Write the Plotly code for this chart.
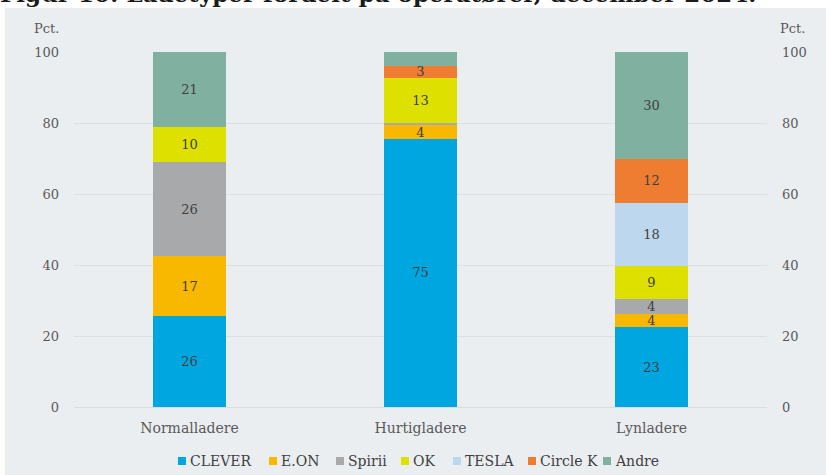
import plotly.graph_objects as go

categories = ["Normalladere", "Hurtigladere", "Lynladere"]
operators = ["CLEVER", "E.ON", "Spirii", "OK", "TESLA", "Circle K", "Andre"]
clever = [25.6, 75.5, 22.5]
eon = [16.9, 3.9, 3.7]
spirii = [26.5, 0.6, 4.2]
ok = [9.9, 12.7, 9.3]
tesla = [0.0, 0.0, 17.8]
circlek = [0.0, 3.4, 12.4]
andre = [21.1, 3.9, 30.1]
# labels shown on the bars (blank where the original shows none)
clever_lbl = ["26", "75", "23"]
eon_lbl = ["17", "4", "4"]
spirii_lbl = ["26", "", "4"]
ok_lbl = ["10", "13", "9"]
tesla_lbl = ["", "", "18"]
circlek_lbl = ["", "3", "12"]
andre_lbl = ["21", "", "30"]
y_ticks = [0, 20, 40, 60, 80, 100]

series = [clever, eon, spirii, ok, tesla, circlek, andre]
labels = [clever_lbl, eon_lbl, spirii_lbl, ok_lbl, tesla_lbl, circlek_lbl, andre_lbl]
colors = ["#00A6E0", "#F8B800", "#A7A9AB", "#DEE000", "#BDD7EE", "#EE7D31", "#80B0A0"]

FONT = "DejaVu Serif"
TXT = "#404040"
GREY = "#595959"
W, H = 826, 475
ML, MR, MT, MB = 74, 59, 52, 68
PW, PH = W - ML - MR, H - MT - MB


def px_x(x):
    return (x - ML) / PW


def px_y(y):
    return (H - MB - y) / PH


fig = go.Figure()
for name, vals, lbl, col in zip(operators, series, labels, colors):
    fig.add_trace(go.Bar(
        name=name, x=categories, y=vals, text=lbl,
        marker=dict(color=col, line=dict(width=0)),
        textposition="inside", insidetextanchor="middle", textangle=0,
        textfont=dict(family=FONT, size=13, color=TXT),
        hoverinfo="x+y+name", showlegend=False,
    ))

# invisible trace for right axis
fig.add_trace(go.Scatter(x=categories, y=[0, 0, 0], yaxis="y2", mode="markers",
                         marker=dict(opacity=0), showlegend=False, hoverinfo="skip"))

BG = "#EBEEF1"

shapes = [
    dict(type="rect", xref="paper", yref="paper", x0=-0.2, x1=1.2, y0=px_y(8), y1=1.3,
         fillcolor="white", line=dict(width=0), layer="below"),
    dict(type="rect", xref="paper", yref="paper", x0=-0.2, x1=px_x(5), y0=-0.3, y1=1.3,
         fillcolor="white", line=dict(width=0), layer="below"),
]
annotations = [
    dict(text="Pct.", xref="paper", yref="paper", x=px_x(46), y=px_y(28), showarrow=False,
         font=dict(size=13, color=GREY), xanchor="center", yanchor="middle"),
    dict(text="Pct.", xref="paper", yref="paper", x=px_x(792), y=px_y(28), showarrow=False,
         font=dict(size=13, color=GREY), xanchor="center", yanchor="middle"),
    dict(text="<b>Figur 10: Ladetyper fordelt på operatører, december 2024.</b>",
         xref="paper", yref="paper", x=px_x(-2), y=px_y(-7), showarrow=False,
         xanchor="left", yanchor="middle", font=dict(size=23, color="#1a1a1a")),
]

# manual legend (compact spacing as in the original)
legend_marker_x = [178, 269, 336, 401, 453, 528, 603]
legend_y = 461
for name, col, lx in zip(operators, colors, legend_marker_x):
    shapes.append(dict(type="rect", xref="paper", yref="paper",
                       x0=px_x(lx), x1=px_x(lx + 8), y0=px_y(legend_y + 4), y1=px_y(legend_y - 4),
                       fillcolor=col, line=dict(width=0)))
    annotations.append(dict(text=name, xref="paper", yref="paper", x=px_x(lx + 10),
                            y=px_y(legend_y), showarrow=False, xanchor="left", yanchor="middle",
                            font=dict(size=14, color=TXT)))

fig.update_layout(
    barmode="stack",
    bargap=0.685,
    width=W, height=H,
    margin=dict(l=ML, r=MR, t=MT, b=MB, autoexpand=False),
    paper_bgcolor=BG, plot_bgcolor=BG,
    font=dict(family=FONT, color=TXT, size=13),
    uniformtext=dict(minsize=13, mode="show"),
    showlegend=False,
    xaxis=dict(showgrid=False, tickfont=dict(size=14, color=GREY), ticks="",
               ticklabelstandoff=8,
               showline=True, linecolor="#D9DDE1", linewidth=1),
    yaxis=dict(range=[0, 100], tickvals=y_ticks, showgrid=True, gridcolor="#DCE0E4",
               gridwidth=1, zeroline=False, tickfont=dict(size=13, color=GREY),
               ticklabelstandoff=14),
    yaxis2=dict(range=[0, 100], tickvals=y_ticks, overlaying="y", side="right",
                showgrid=False, zeroline=False, tickfont=dict(size=13, color=GREY),
                ticklabelstandoff=14),
    shapes=shapes,
    annotations=annotations,
)

fig.write_html("out.html", config={"displayModeBar": False},
               post_script="document.body.style.margin='0';")
